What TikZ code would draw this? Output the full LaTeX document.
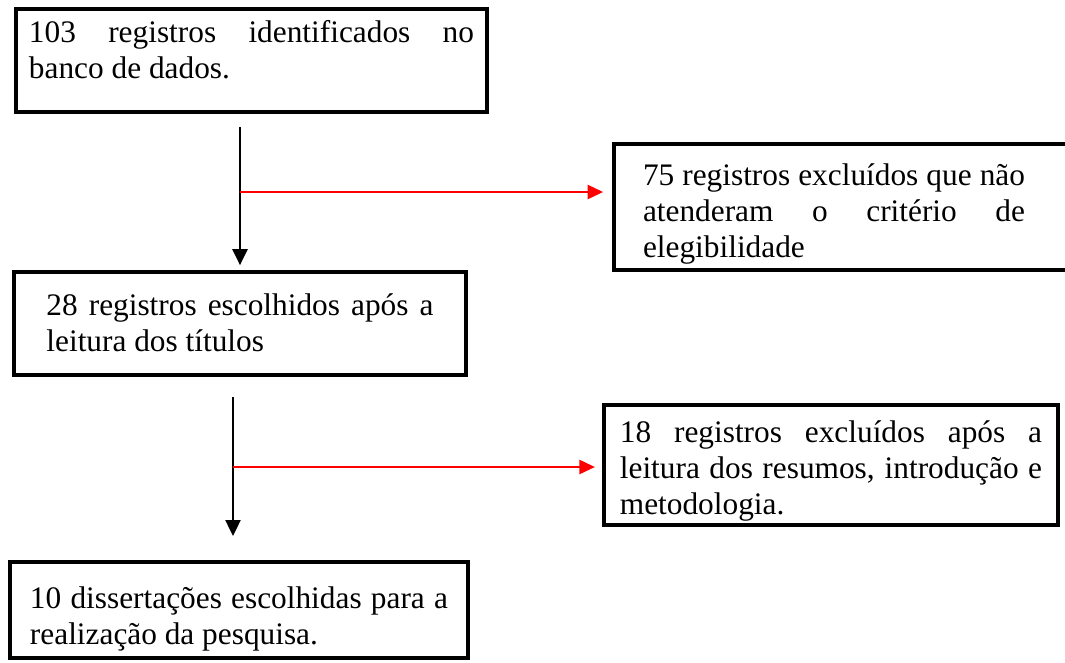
\documentclass[tikz,border=0pt]{standalone}
\usepackage{fontspec}
\setmainfont{Liberation Serif}
\usetikzlibrary{arrows.meta}
\hyphenpenalty=10000

\begin{document}
\begin{tikzpicture}[x=0.45pt, y=-0.45pt,
		box/.style={rectangle, draw, line width=1.8pt, align=justify, inner sep=0pt, text height=0pt, font=\fontsize{14.1pt}{16.2pt}\selectfont},
		flow/.style={line width=0.9pt, -{Triangle[width=6.8pt, length=7.2pt]}},
		drop/.style={red, line width=0.9pt, -{Triangle[width=6.4pt, length=7pt]}}]
		\useasboundingbox (0,0) rectangle (1065,662);
		\clip (0,0) rectangle (1065,662);
		\node[box, minimum width=211.95pt, minimum height=46.35pt, text width=200.25pt, text depth=16.6pt] (found) at (251.5,60.5) {103 registros identificados no\linebreak banco de dados.};
		\node[box, minimum width=206.1pt, minimum height=56.7pt, text width=180pt, text depth=19.8pt] (excl1) at (843,207) {\rightskip=8.1pt\relax 75 registros excluídos que não\linebreak atenderam o critério de\linebreak elegibilidade\par};
		\node[box, minimum width=203.4pt, minimum height=46.35pt, text width=174.2pt, text depth=7.6pt] (titles) at (240,323.5) {28 registros escolhidos após a\linebreak leitura dos títulos};
		\node[box, minimum width=204.3pt, minimum height=54pt, text width=190pt, text depth=20.7pt] (excl2) at (831,465) {18 registros excluídos após a\linebreak leitura dos resumos, introdução e\linebreak metodologia.};
		\node[box, minimum width=206.1pt, minimum height=43.2pt, text width=188.1pt, text depth=1.8pt] (chosen) at (239,610) {10 dissertações escolhidas para a\linebreak realização da pesquisa.};
		
		\coordinate (j1) at (240,192);
		\coordinate (j2) at (233,467);
		\draw[flow, shorten <=5.9pt, shorten >=2.2pt] (found.south -| j1) -- (titles.north -| j1);
		\draw[drop, shorten >=4pt] (j1) -- (excl1.west |- j1);
		\draw[flow, shorten <=9pt, shorten >=10.8pt] (titles.south -| j2) -- (chosen.north -| j2);
		\draw[drop, shorten >=3.2pt] (j2) -- (excl2.west |- j2);
\end{tikzpicture}
\end{document}
